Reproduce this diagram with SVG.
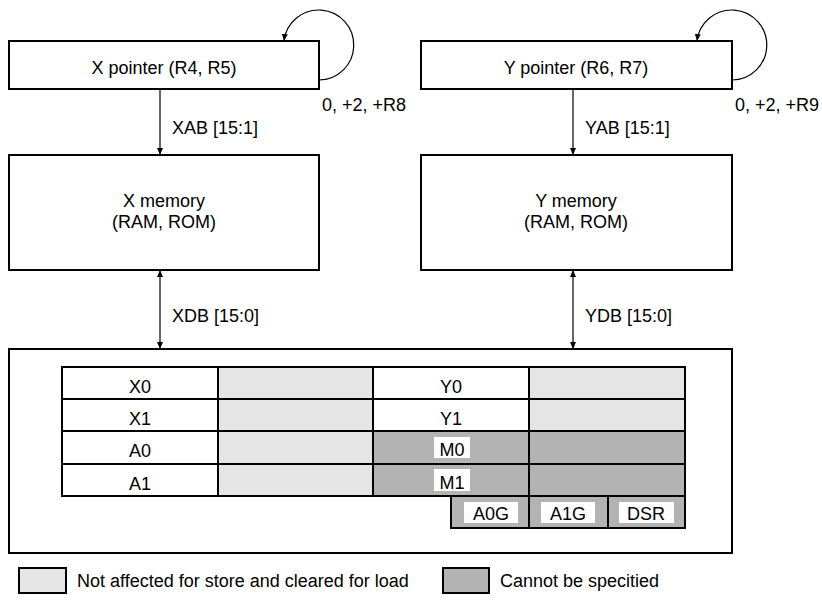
<svg xmlns="http://www.w3.org/2000/svg" width="822" height="603" viewBox="0 0 822 603">
<style>
text{font-family:"Liberation Sans",Arial,sans-serif;font-size:18px;fill:#000}
.c{text-anchor:middle}
.box{fill:#fff;stroke:#000;stroke-width:2}
.lt{fill:#e5e5e5;stroke:#000;stroke-width:2}
.dk{fill:#b3b3b3;stroke:#000;stroke-width:2}
.wh{fill:#fff;stroke:#000;stroke-width:2}
.lab{fill:#fff;stroke:none}
.ln{fill:none;stroke:#000;stroke-width:1.2}
</style>
<defs>
<marker id="ah" markerWidth="8" markerHeight="8" refX="7" refY="4" orient="auto" markerUnits="userSpaceOnUse">
<path d="M0,1 L7,4 L0,7 z" fill="#000"/>
</marker>
<marker id="as" markerWidth="8" markerHeight="8" refX="0" refY="4" orient="auto" markerUnits="userSpaceOnUse">
<path d="M7,1 L0,4 L7,7 z" fill="#000"/>
</marker>
</defs>
<g id="x-pointer"><rect class="box" x="9" y="41" width="310" height="48"/><text class="c" x="164" y="74">X pointer (R4, R5)</text></g>
<g id="y-pointer"><rect class="box" x="421" y="41" width="311" height="48"/><text class="c" x="576" y="74">Y pointer (R6, R7)</text></g>
<g id="x-memory"><rect class="box" x="9" y="155" width="310" height="115"/><text class="c" x="164" y="207">X memory</text><text class="c" x="164" y="228">(RAM, ROM)</text></g>
<g id="y-memory"><rect class="box" x="421" y="155" width="311" height="115"/><text class="c" x="576" y="207">Y memory</text><text class="c" x="576" y="228">(RAM, ROM)</text></g>
<g id="registers">
<rect class="box" x="9" y="349" width="723" height="204"/>
<rect class="wh" x="62" y="367" width="156" height="32"/><text class="c" x="140" y="393">X0</text>
<rect class="wh" x="62" y="399" width="156" height="32"/><text class="c" x="140" y="425">X1</text>
<rect class="wh" x="62" y="431" width="156" height="33"/><text class="c" x="140" y="457">A0</text>
<rect class="wh" x="62" y="464" width="156" height="32"/><text class="c" x="140" y="490">A1</text>
<rect class="lt" x="218" y="367" width="155" height="32"/>
<rect class="lt" x="218" y="399" width="155" height="32"/>
<rect class="lt" x="218" y="431" width="155" height="33"/>
<rect class="lt" x="218" y="464" width="155" height="32"/>
<rect class="wh" x="373" y="367" width="156" height="32"/><text class="c" x="451" y="393">Y0</text>
<rect class="wh" x="373" y="399" width="156" height="32"/><text class="c" x="451" y="425">Y1</text>
<rect class="dk" x="373" y="431" width="156" height="33"/><rect class="lab" x="434" y="437" width="36" height="21"/><text class="c" x="452" y="456">M0</text>
<rect class="dk" x="373" y="464" width="156" height="32"/><rect class="lab" x="434" y="469" width="36" height="22"/><text class="c" x="452" y="489">M1</text>
<rect class="lt" x="529" y="367" width="156" height="32"/>
<rect class="lt" x="529" y="399" width="156" height="32"/>
<rect class="dk" x="529" y="431" width="156" height="33"/>
<rect class="dk" x="529" y="464" width="156" height="32"/>
<rect class="dk" x="451" y="496" width="78" height="32"/><rect class="lab" x="464" y="502" width="54" height="21"/><text class="c" x="491" y="520">A0G</text>
<rect class="dk" x="529" y="496" width="79" height="32"/><rect class="lab" x="541" y="502" width="54" height="21"/><text class="c" x="568" y="520">A1G</text>
<rect class="dk" x="608" y="496" width="77" height="32"/><rect class="lab" x="619" y="502" width="55" height="21"/><text class="c" x="646" y="520">DSR</text>
</g>
<g id="legend">
<rect class="lt" x="19" y="568" width="47" height="25"/><text x="77" y="587">Not affected for store and cleared for load</text>
<rect class="dk" x="443" y="568" width="46" height="25"/><text x="500" y="587">Cannot be specitied</text>
</g>
<g id="connectors">
<path class="ln" d="M319,80 A35,35 0 1 0 284,41" marker-end="url(#ah)"/>
<path class="ln" d="M732,80 A35,35 0 1 0 697,41" marker-end="url(#ah)"/>
<text x="322" y="111">0, +2, +R8</text>
<text x="735" y="111">0, +2, +R9</text>
<line class="ln" x1="160" y1="89" x2="160" y2="155" marker-end="url(#ah)"/>
<text x="172" y="134">XAB [15:1]</text>
<line class="ln" x1="573" y1="89" x2="573" y2="155" marker-end="url(#ah)"/>
<text x="585" y="134">YAB [15:1]</text>
<line class="ln" x1="160" y1="270" x2="160" y2="349" marker-start="url(#as)" marker-end="url(#ah)"/>
<text x="172" y="322">XDB [15:0]</text>
<line class="ln" x1="573" y1="270" x2="573" y2="349" marker-start="url(#as)" marker-end="url(#ah)"/>
<text x="585" y="322">YDB [15:0]</text>
</g>
</svg>
